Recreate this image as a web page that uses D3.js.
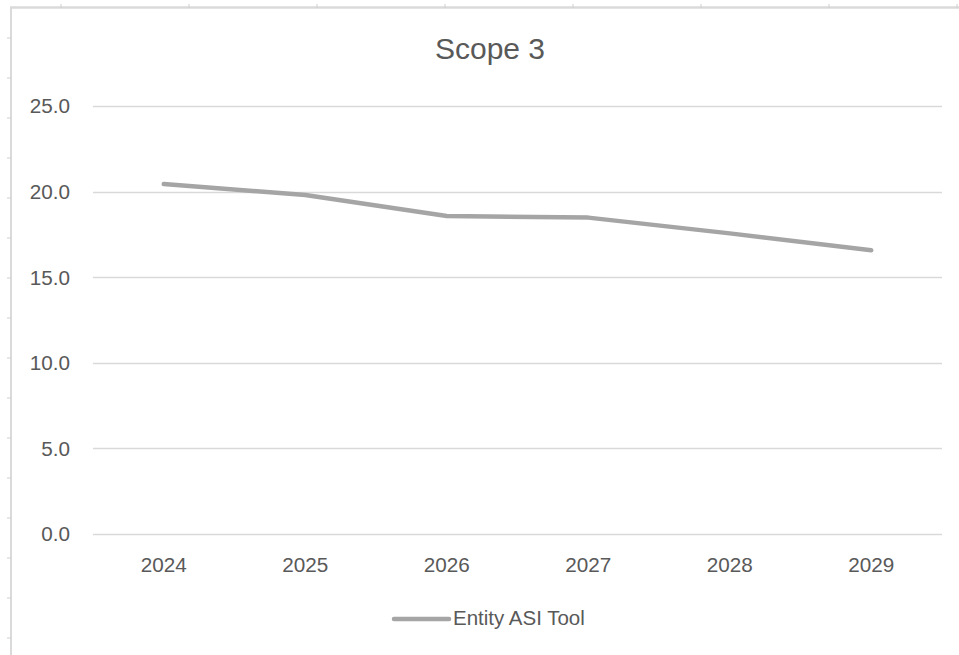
<!DOCTYPE html>
<html>
<head>
<meta charset="utf-8">
<script src="https://cdn.jsdelivr.net/npm/d3@7"></script>
<style>
  html, body { margin: 0; padding: 0; background: #fff; }
  svg { display: block; font-family: "Liberation Sans", Arial, sans-serif; }
</style>
</head>
<body>
<svg id="chart" width="959" height="655"></svg>
<script>
// chart data
var years = ["2024", "2025", "2026", "2027", "2028", "2029"];
var scope3 = [20.44, 19.8, 18.57, 18.48, 17.56, 16.57];
var yTicks = [0, 5, 10, 15, 20, 25];
var seriesName = "Entity ASI Tool";
var chartTitle = "Scope 3";

var svg = d3.select("#chart");
var textColor = "#595959", gridColor = "#d9d9d9", lineColor = "#a5a5a5";

// frame left / top edge with little ruler ticks
svg.append("line").attr("x1", 11).attr("x2", 11).attr("y1", 7).attr("y2", 655)
   .style("stroke", "#dadada").style("stroke-width", 2);
svg.append("line").attr("x1", 10).attr("x2", 959).attr("y1", 7.5).attr("y2", 7.5)
   .style("stroke", "#dadada").style("stroke-width", 2.5);
svg.selectAll(".ltick").data(d3.range(38, 655, 40)).enter().append("line")
   .attr("x1", 7).attr("x2", 11).attr("y1", function(d) { return d; }).attr("y2", function(d) { return d; })
   .style("stroke", "#cfcfcf").style("stroke-width", 1);
svg.selectAll(".ttick").data(d3.range(61, 959, 128)).enter().append("line")
   .attr("x1", function(d) { return d; }).attr("x2", function(d) { return d; }).attr("y1", 4).attr("y2", 8)
   .style("stroke", "#cfcfcf").style("stroke-width", 1);

var x = d3.scaleBand().domain(years).range([93, 942]);
var y = d3.scaleLinear().domain([0, 25]).range([534, 106]);

// gridlines
svg.append("g").selectAll("line").data(yTicks).enter().append("line")
   .attr("x1", 93).attr("x2", 942)
   .attr("y1", function(d) { return Math.round(y(d)) + 0.5; })
   .attr("y2", function(d) { return Math.round(y(d)) + 0.5; })
   .style("stroke", gridColor).style("stroke-width", 1.3);

// y labels
svg.append("g").selectAll("text").data(yTicks).enter().append("text")
   .attr("x", 70).attr("y", function(d) { return y(d); })
   .attr("dy", "0.36em")
   .attr("text-anchor", "end")
   .style("font-size", "20.7px").style("fill", textColor)
   .text(function(d) { return d.toFixed(1); });

// x labels
svg.append("g").selectAll("text").data(years).enter().append("text")
   .attr("x", function(d) { return x(d) + x.bandwidth() / 2; })
   .attr("y", 572)
   .attr("text-anchor", "middle")
   .style("font-size", "20.7px").style("fill", textColor)
   .text(function(d) { return d; });

// series line
var line = d3.line()
   .x(function(d, i) { return x(years[i]) + x.bandwidth() / 2; })
   .y(function(d) { return y(d); });
svg.append("path").datum(scope3)
   .attr("d", line)
   .style("fill", "none")
   .style("stroke", lineColor)
   .style("stroke-width", "4.5px")
   .style("stroke-linecap", "round")
   .style("stroke-linejoin", "round");

// title
svg.append("text").attr("x", 490).attr("y", 59)
   .attr("text-anchor", "middle")
   .style("font-size", "30px").style("fill", textColor)
   .text(chartTitle);

// legend
svg.append("line").attr("x1", 394).attr("x2", 449).attr("y1", 619).attr("y2", 619)
   .style("stroke", lineColor).style("stroke-width", "4.5px").style("stroke-linecap", "round");
svg.append("text").attr("x", 453).attr("y", 625)
   .style("font-size", "20.5px").style("fill", textColor)
   .text(seriesName);
</script>
</body>
</html>
